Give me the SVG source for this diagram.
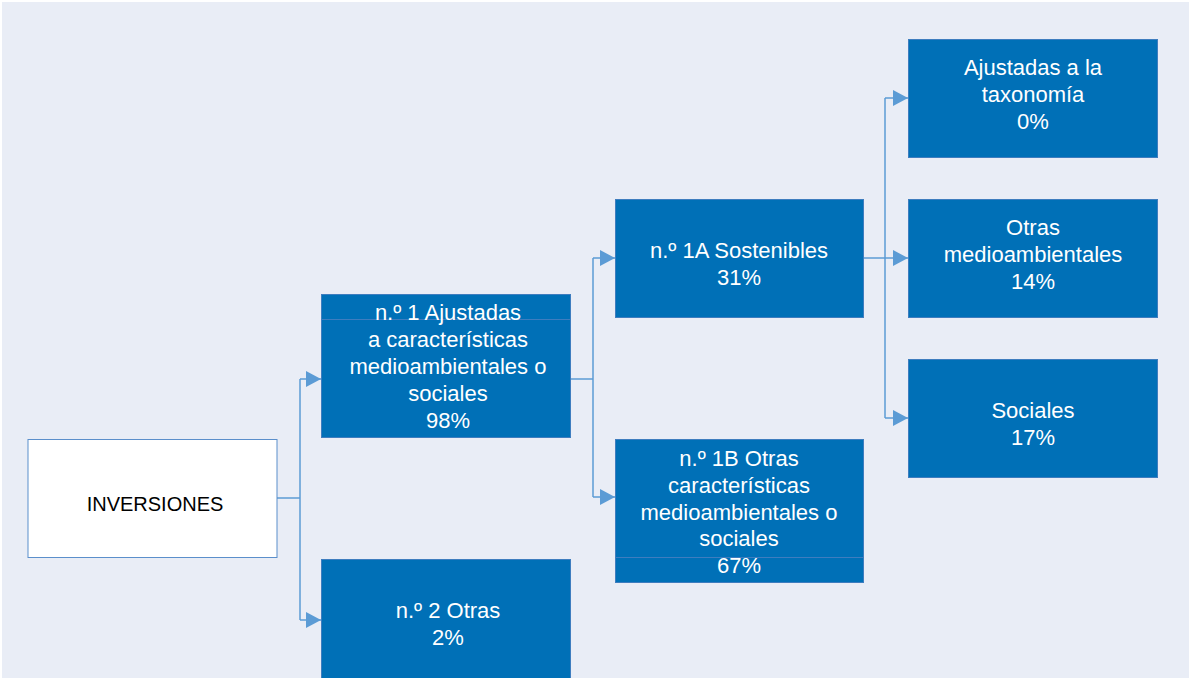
<svg xmlns="http://www.w3.org/2000/svg" width="1191" height="678" viewBox="0 0 1191 678">
<defs>
<style>
.bg{fill:#E9EDF6}
.box{fill:#0070B7;stroke:#3E7DBF;stroke-width:1}
.wbox{fill:#FFFFFF;stroke:#5B8FCB;stroke-width:1}
.t{font-family:"Liberation Sans",Arial,sans-serif;font-size:22px;fill:#FFFFFF;text-anchor:middle}
.tk{font-family:"Liberation Sans",Arial,sans-serif;font-size:20px;fill:#000000;text-anchor:middle}
.c{fill:none;stroke:#5B9BD5;stroke-width:1.5}
</style>
<marker id="ah" markerWidth="15" markerHeight="16" refX="15" refY="8" orient="auto" markerUnits="userSpaceOnUse">
<path d="M0,0 L15,8 L0,16 Z" fill="#5B9BD5"/>
</marker>
</defs>
<rect x="0" y="0" width="1191" height="678" fill="#FFFFFF"/>
<rect class="bg" x="2" y="2" width="1187" height="676"/>

<g id="connectors">
<path class="c" d="M277,498 H300"/>
<path class="c" d="M300,379 V620"/>
<path class="c" d="M300,379 H321" marker-end="url(#ah)"/>
<path class="c" d="M300,620 H321" marker-end="url(#ah)"/>
<path class="c" d="M571,379 H593"/>
<path class="c" d="M593,258 V497"/>
<path class="c" d="M593,258 H615" marker-end="url(#ah)"/>
<path class="c" d="M593,497 H615" marker-end="url(#ah)"/>
<path class="c" d="M863,258 H885"/>
<path class="c" d="M885,98 V418"/>
<path class="c" d="M885,98 H908" marker-end="url(#ah)"/>
<path class="c" d="M885,258 H908" marker-end="url(#ah)"/>
<path class="c" d="M885,418 H908" marker-end="url(#ah)"/>
</g>

<g id="inversiones">
<rect class="wbox" x="28" y="439.5" width="249" height="118"/>
<text class="tk" x="155" y="511">INVERSIONES</text>
</g>

<g id="n1">
<rect class="box" x="321.5" y="294.5" width="249" height="30"/>
<rect class="box" x="321.5" y="319.5" width="249" height="118"/>
<text class="t" x="448" y="320">n.º 1 Ajustadas</text>
<text class="t" x="448" y="347">a características</text>
<text class="t" x="448" y="374">medioambientales o</text>
<text class="t" x="448" y="401">sociales</text>
<text class="t" x="448" y="428">98%</text>
</g>

<g id="n2">
<rect class="box" x="321.5" y="559.5" width="249" height="125"/>
<text class="t" x="448" y="618">n.º 2 Otras</text>
<text class="t" x="448" y="645">2%</text>
</g>

<g id="n1a">
<rect class="box" x="615.5" y="199.5" width="248" height="118"/>
<text class="t" x="739" y="258">n.º 1A Sostenibles</text>
<text class="t" x="739" y="285">31%</text>
</g>

<g id="n1b">
<rect class="box" x="615.5" y="557.5" width="248" height="25"/>
<rect class="box" x="615.5" y="439.5" width="248" height="118"/>
<text class="t" x="739" y="466">n.º 1B Otras</text>
<text class="t" x="739" y="493">características</text>
<text class="t" x="739" y="520">medioambientales o</text>
<text class="t" x="739" y="546">sociales</text>
<text class="t" x="739" y="573">67%</text>
</g>

<g id="taxonomia">
<rect class="box" x="908.5" y="39.5" width="249" height="118"/>
<text class="t" x="1033" y="75">Ajustadas a la</text>
<text class="t" x="1033" y="102">taxonomía</text>
<text class="t" x="1033" y="129">0%</text>
</g>

<g id="otras-medio">
<rect class="box" x="908.5" y="199.5" width="249" height="118"/>
<text class="t" x="1033" y="235">Otras</text>
<text class="t" x="1033" y="262">medioambientales</text>
<text class="t" x="1033" y="289">14%</text>
</g>

<g id="sociales">
<rect class="box" x="908.5" y="359.5" width="249" height="118"/>
<text class="t" x="1033" y="418">Sociales</text>
<text class="t" x="1033" y="445">17%</text>
</g>
</svg>
